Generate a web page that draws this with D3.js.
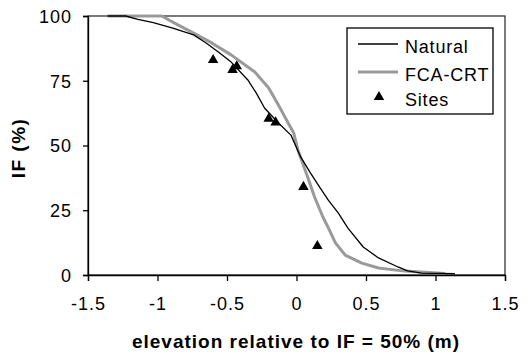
<!DOCTYPE html>
<html>
<head>
<meta charset="utf-8">
<script src="https://cdn.jsdelivr.net/npm/d3@7"></script>
<style>
html,body{margin:0;padding:0;background:#fff;}
svg{display:block;}
text{font-family:"Liberation Sans",Arial,sans-serif;fill:#000;}
</style>
</head>
<body>
<svg id="chart" width="531" height="356"></svg>
<script>
// ---- data ----
const xTicks = [-1.5, -1, -0.5, 0, 0.5, 1, 1.5];
const yTicks = [0, 25, 50, 75, 100];

const naturalX = [-1.36, -1.23, -1.14, -1.03, -0.89, -0.74, -0.65, -0.56, -0.47, -0.35, -0.29, -0.23, -0.13, -0.04, 0.03, 0.10, 0.17, 0.23, 0.30, 0.37, 0.48, 0.59, 0.73, 0.80, 0.90, 1.14];
const naturalY = [100, 100, 98.7, 97.4, 95.3, 92.7, 89.6, 86.0, 82.2, 75.3, 70.3, 64.5, 58.7, 54.0, 45.6, 39.4, 33.6, 28.8, 24.0, 18.1, 10.8, 6.6, 3.1, 1.6, 0.7, 0.5];

const fcaX = [-1.36, -0.97, -0.85, -0.74, -0.61, -0.47, -0.30, -0.20, -0.13, -0.06, -0.02, 0.01, 0.08, 0.13, 0.19, 0.23, 0.28, 0.35, 0.47, 0.59, 0.78, 1.07];
const fcaY = [100, 100, 96.5, 93.4, 89.6, 85.0, 78.4, 72.2, 65.6, 58.7, 54.8, 48.3, 37.8, 30.1, 22.4, 18.1, 12.4, 7.7, 4.6, 2.7, 1.5, 0.6];

const siteX = [-0.60, -0.46, -0.43, -0.20, -0.15, 0.05, 0.15];
const siteY = [83.0, 79.2, 80.6, 60.3, 58.9, 34.0, 11.2];

const seriesNames = ["Natural", "FCA-CRT", "Sites"];

// ---- chart ----
const svg = d3.select("#chart");
const x = d3.scaleLinear().domain([-1.5, 1.5]).range([88, 505]);
const y = d3.scaleLinear().domain([0, 100]).range([275, 16]);

// plot border (top & right)
svg.append("rect")
  .attr("x", x(-1.5)).attr("y", y(100))
  .attr("width", x(1.5) - x(-1.5)).attr("height", y(0) - y(100))
  .attr("fill", "none").attr("stroke", "#222").attr("stroke-width", 1.2);

const line = d3.line().x(d => x(d[0])).y(d => y(d[1]));

const fcaData = fcaX.map((v, i) => [v, fcaY[i]]);
const natData = naturalX.map((v, i) => [v, naturalY[i]]);

svg.append("path").datum(fcaData).attr("d", line)
  .attr("fill", "none").attr("stroke", "#9a9a9a").attr("stroke-width", 3)
  .attr("stroke-linejoin", "round");
svg.append("path").datum(natData).attr("d", line)
  .attr("fill", "none").attr("stroke", "#000").attr("stroke-width", 1.3)
  .attr("stroke-linejoin", "round");

const tri = d3.symbol().type(d3.symbolTriangle).size(48);
svg.selectAll("path.site").data(siteX.map((v, i) => [v, siteY[i]]))
  .enter().append("path").attr("class", "site")
  .attr("d", tri)
  .attr("transform", d => `translate(${x(d[0])},${y(d[1])})`)
  .attr("fill", "#000");

// axes
const xAxis = d3.axisBottom(x).tickValues(xTicks).tickSize(6).tickFormat(d => String(d));
const gx = svg.append("g").attr("transform", `translate(0,${y(0)})`).call(xAxis);
gx.select(".domain").attr("stroke", "#000").attr("stroke-width", 1.3);
gx.selectAll(".tick line").attr("stroke", "#000").attr("stroke-width", 1.3);
gx.selectAll(".tick text").attr("font-size", 18).attr("dy", null).attr("y", 35)
  .attr("font-family", "Liberation Sans, Arial, sans-serif").attr("letter-spacing", 1);

const yAxis = d3.axisLeft(y).tickValues(yTicks).tickSize(5).tickFormat(d => String(d));
const gy = svg.append("g").attr("transform", `translate(${x(-1.5)},0)`).call(yAxis);
gy.select(".domain").attr("stroke", "#000").attr("stroke-width", 1.3);
gy.selectAll(".tick line").attr("stroke", "#000").attr("stroke-width", 1.3);
gy.selectAll(".tick text").attr("font-size", 18).attr("x", -16).attr("dy", "0.35em")
  .attr("font-family", "Liberation Sans, Arial, sans-serif").attr("letter-spacing", 1);

// axis titles
svg.append("text").attr("x", 296).attr("y", 348).attr("text-anchor", "middle")
  .attr("font-size", 19).attr("font-weight", "bold").attr("letter-spacing", 1)
  .text("elevation relative to IF = 50% (m)");
svg.append("text").attr("transform", "translate(25,148) rotate(-90)").attr("text-anchor", "middle")
  .attr("font-size", 19).attr("font-weight", "bold").attr("letter-spacing", 1.5)
  .text("IF (%)");

// legend
const lg = svg.append("g");
lg.append("rect").attr("x", 347).attr("y", 28).attr("width", 146).attr("height", 86)
  .attr("fill", "#fff").attr("stroke", "#000").attr("stroke-width", 1.3);
const rowsY = [44, 72, 97];
lg.append("line").attr("x1", 358).attr("x2", 398).attr("y1", rowsY[0]).attr("y2", rowsY[0])
  .attr("stroke", "#000").attr("stroke-width", 1.3);
lg.append("line").attr("x1", 358).attr("x2", 398).attr("y1", rowsY[1]).attr("y2", rowsY[1])
  .attr("stroke", "#9a9a9a").attr("stroke-width", 3);
lg.append("path").attr("d", tri).attr("transform", `translate(379,${rowsY[2]})`).attr("fill", "#000");
seriesNames.forEach((n, i) => {
  lg.append("text").attr("x", 405).attr("y", rowsY[i] + 4).attr("dy", "0.27em")
    .attr("font-size", 18).attr("letter-spacing", 0.8).text(n);
});
</script>
</body>
</html>
